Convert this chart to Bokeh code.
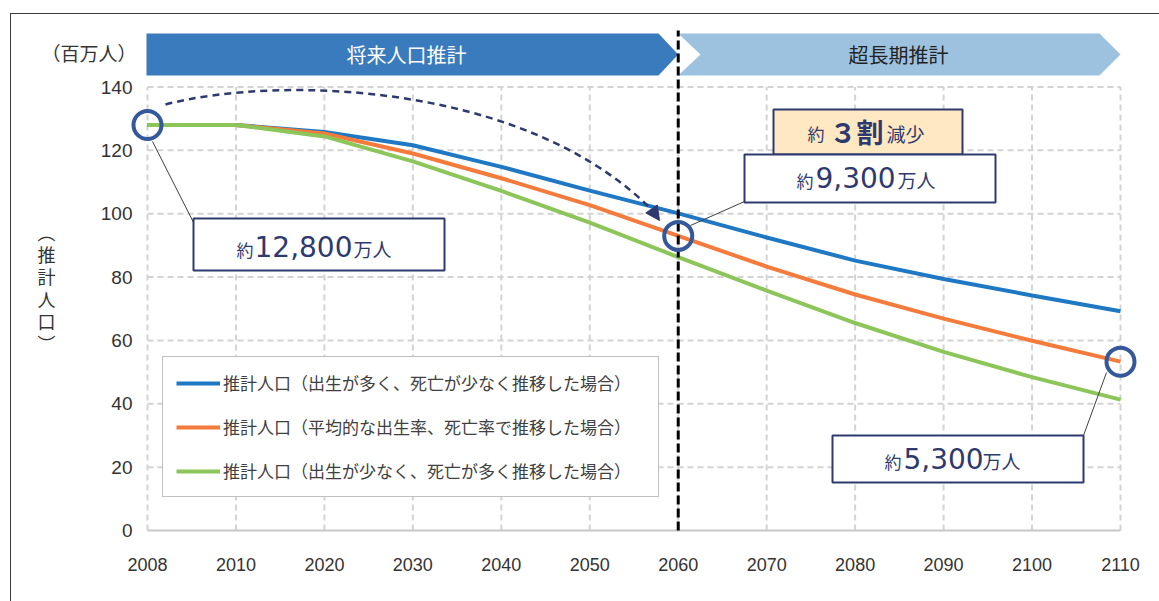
from bokeh.plotting import figure
from bokeh.models import Range1d, FixedTicker, Arrow, NormalHead
from bokeh.core.properties import value
from bokeh.embed import file_html
from bokeh.resources import INLINE

# ---------------- data ----------------
years = ["2008", "2010", "2020", "2030", "2040", "2050", "2060",
         "2070", "2080", "2090", "2100", "2110"]
high = [128.0, 128.0, 125.8, 121.6, 114.8, 107.3, 100.1, 92.5, 85.2, 79.4, 74.2, 69.2]
medium = [128.0, 128.0, 125.3, 119.0, 111.2, 102.7, 93.0, 83.3, 74.5, 66.9, 59.9, 53.3]
low = [128.0, 128.0, 124.4, 116.5, 107.2, 97.2, 86.3, 75.7, 65.5, 56.4, 48.4, 41.3]
y_ticks = [0, 20, 40, 60, 80, 100, 120, 140]
series_labels = [
    "推計人口（出生が多く、死亡が少なく推移した場合）",
    "推計人口（平均的な出生率、死亡率で推移した場合）",
    "推計人口（出生が少なく、死亡が多く推移した場合）",
]
phase_labels = ["将来人口推計", "超長期推計"]
unit_label = "（百万人）"
axis_title = "︵\n推\n計\n人\n口\n︶"
split_year = "2060"

# ---------------- layout helpers (pixel -> data) ----------------
W, H = 1159, 601
X_FIRST_PX, X_LAST_PX = 147, 1120      # 2008 / 2110 positions
Y0_PX, YTOP_PX = 530, 86.5             # 0 / 140 positions
FRAME_BOTTOM = 545
xs = list(range(len(years)))
XMAX = xs[-1]
UX = (X_LAST_PX - X_FIRST_PX) / XMAX
UY = (Y0_PX - YTOP_PX) / y_ticks[-1]


def px(sx):
    return (sx - X_FIRST_PX) / UX


def py(sy):
    return (Y0_PX - sy) / UY


CJK = "Noto Sans CJK JP"
NUM = "DejaVu Sans"
TICKF = "Liberation Sans"
NAVY = "#2e3a6e"
GRID = "#d3d3d3"
BLUE, ORANGE, GREEN = "#1f78c3", "#f47b3b", "#8cc55a"

p = figure(width=W, height=H, output_backend="svg", toolbar_location=None,
           y_axis_location=None,
           x_range=Range1d(px(0), px(W)), y_range=Range1d(py(FRAME_BOTTOM), py(0)),
           min_border_left=0, min_border_right=0, min_border_top=0,
           min_border_bottom=H - FRAME_BOTTOM)
p.outline_line_color = None
p.border_fill_color = None
p.background_fill_color = None
p.grid.visible = False
p.styles = {
    "background-color": "white",
    "background-image": "linear-gradient(#3c3c3c,#3c3c3c), linear-gradient(#3c3c3c,#3c3c3c)",
    "background-size": "1149px 1px, 1px 590px",
    "background-position": "10px 13px, 10px 13px",
    "background-repeat": "no-repeat",
}

# x axis (real axis)
p.xaxis.ticker = FixedTicker(ticks=xs)
p.xaxis.major_label_overrides = {i: y for i, y in zip(xs, years)}
p.xaxis.axis_line_color = None
p.xaxis.major_tick_line_color = None
p.xaxis.minor_tick_line_color = None
p.xaxis.major_label_standoff = 6
p.xaxis.major_label_text_font = TICKF
p.xaxis.major_label_text_font_size = "18px"
p.xaxis.major_label_text_color = "#333333"

# y tick labels
p.text(x=[px(132)] * len(y_ticks), y=y_ticks, text=[str(t) for t in y_ticks],
       text_font=value(TICKF), text_font_size="19px", text_color="#333333",
       text_align="right", text_baseline="middle")

# grid (dashed), baseline solid
p.segment(x0=[0] * (len(y_ticks) - 1), y0=y_ticks[1:], x1=[XMAX] * (len(y_ticks) - 1),
          y1=y_ticks[1:], line_color=GRID, line_width=2, line_dash="6 4")
p.segment(x0=xs, y0=[0] * len(xs), x1=xs, y1=[y_ticks[-1]] * len(xs),
          line_color=GRID, line_width=2, line_dash="6 4")
p.segment(x0=[0], y0=[0], x1=[XMAX], y1=[0], line_color="#c8c8c8", line_width=2)

# phase banners
si = years.index(split_year)
p.patch(x=[px(146), px(658), si, px(658), px(146)],
        y=[py(33), py(33), py(54), py(75), py(75)], fill_color="#3a7bbd", line_color=None)
p.patch(x=[si, px(1099), XMAX, px(1099), si, px(700)],
        y=[py(33), py(33), py(54), py(75), py(75), py(54)], fill_color="#9dc2df", line_color=None)
p.text(x=[px(406), px(898)], y=[py(54), py(54)], text=phase_labels,
       text_color=["white", "#222222"], text_font=value(CJK), text_font_size="20px",
       text_align="center", text_baseline="middle")

# series lines
p.line(xs, high, line_color=BLUE, line_width=4, legend_label=series_labels[0])
p.line(xs, medium, line_color=ORANGE, line_width=4, legend_label=series_labels[1])
p.line(xs, low, line_color=GREEN, line_width=4, legend_label=series_labels[2])

# 2060 divider
p.segment(x0=[si], y0=[0], x1=[si], y1=[py(30)], line_color="black", line_width=3, line_dash="9 4")

# dashed curved arrow
p.bezier(x0=[px(165)], y0=[py(104)], x1=[px(656)], y1=[py(214)],
         cx0=[px(280)], cy0=[py(74)], cx1=[px(530)], cy1=[py(82)],
         line_color=NAVY, line_width=2.5, line_dash="7 5")
p.add_layout(Arrow(end=NormalHead(size=14, fill_color=NAVY, line_color=NAVY),
                   x_start=px(648), y_start=py(204), x_end=px(659), y_end=py(220),
                   line_alpha=0))

# leader lines
p.segment(x0=[px(152), px(690), px(1106)], y0=[py(141), py(225), py(372)],
          x1=[px(193), px(744), px(1083)], y1=[py(222), py(201), py(435)],
          line_color="#404040", line_width=1)

# highlighted points
mi = [0, si, XMAX]
p.scatter([xs[i] for i in mi], [medium[i] for i in mi], size=28, fill_color=None,
          line_color="#35589a", line_width=4)

# callout boxes
p.quad(left=[px(773)], right=[px(962)], top=[py(109)], bottom=[py(154)],
       fill_color="#ffe8c2", line_color=NAVY, line_width=2)
p.quad(left=[px(193), px(744), px(832)], right=[px(444), px(995), px(1083)],
       top=[py(218), py(154), py(435)], bottom=[py(270), py(202), py(482)],
       fill_color="white", line_color=NAVY, line_width=2)

# callout texts (small / large / small)
p.text(x=[px(236), px(796), px(807), px(884)], y=[py(249), py(180), py(133), py(461)],
       text=["約", "約", "約", "約"], text_font=value(CJK), text_font_size="17px",
       text_color=NAVY, text_align="left", text_baseline="middle")
p.text(x=[px(254), px(815), px(903)], y=[py(246), py(177), py(458)],
       text=["12,800", "9,300", "5,300"], text_font=value(NUM), text_font_size="28px",
       text_color=NAVY, text_align="left", text_baseline="middle")
p.text(x=[px(353), px(897), px(982)], y=[py(248), py(179), py(460)],
       text=["万人", "万人", "万人"], text_font=value(CJK), text_font_size="19px",
       text_color=NAVY, text_align="left", text_baseline="middle")
p.text(x=[px(829)], y=[py(131)], text=["３割"], text_font=value(CJK), text_font_size="27px",
       text_font_style="bold", text_color=NAVY, text_align="left", text_baseline="middle")
p.text(x=[px(886)], y=[py(133)], text=["減少"], text_font=value(CJK), text_font_size="19px",
       text_color=NAVY, text_align="left", text_baseline="middle")

# unit label and vertical axis title
p.text(x=[px(136)], y=[py(52)], text=[unit_label], text_font=value(CJK), text_font_size="19px",
       text_color="#333333", text_align="right", text_baseline="middle")
p.text(x=[px(46)], y=[py(287)], text=[axis_title], text_font=value(CJK), text_font_size="18px",
       text_color="#333333", text_align="center", text_baseline="middle", text_line_height=0.86)

# legend
lg = p.legend[0]
lg.location = (162, FRAME_BOTTOM - 497)
lg.margin = 0
lg.border_line_color = "#7f7f7f"
lg.border_line_width = 1
lg.background_fill_color = "white"
lg.background_fill_alpha = 1
lg.label_text_font = CJK
lg.label_text_font_size = "17px"
lg.label_text_color = "#404040"
lg.glyph_width = 44
lg.glyph_height = 20
lg.label_height = 20
lg.spacing = 19
lg.padding = 13
lg.label_standoff = 3
lg.label_width = 422

open("out.html", "w").write(file_html(p, INLINE))
